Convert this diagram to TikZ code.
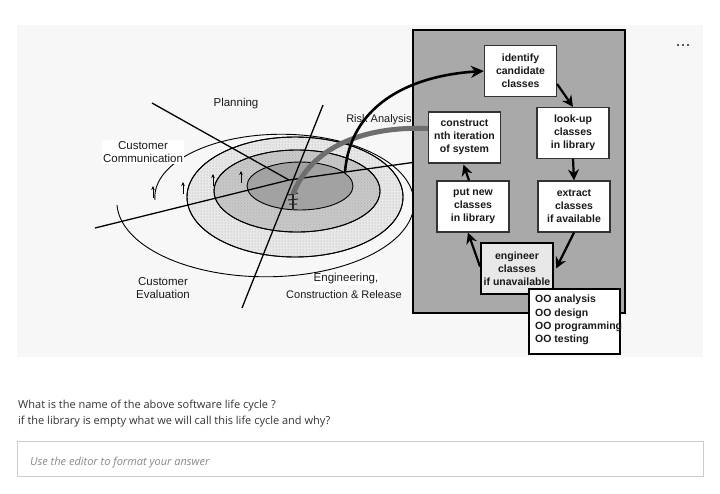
\documentclass[tikz,border=0pt]{standalone}
\usepackage{fontspec}
\setmainfont{Liberation Sans}
\newfontfamily\ui{Open Sans}
\usetikzlibrary{arrows.meta,patterns}
\definecolor{panelbg}{HTML}{F7F7F7}
\definecolor{boxgray}{HTML}{A9A9A9}
\definecolor{ringA}{HTML}{E8E8E8}
\definecolor{ringB}{HTML}{C8C8C8}
\definecolor{ringC}{HTML}{A2A2A2}
\definecolor{curvegray}{HTML}{6E6E6E}
\definecolor{uitext}{HTML}{333333}
\definecolor{uiborder}{HTML}{CCCCCC}
\definecolor{uiplace}{HTML}{888888}
\definecolor{lbl}{HTML}{1A1A1A}
\begin{document}
\begin{tikzpicture}[x=1pt,y=-1pt,
  stepbox/.style={rectangle,draw=black!80,line width=1.2pt,fill=white,align=center,
    minimum width=72pt,minimum height=51pt,inner sep=0pt,text=black!90,
    font=\fontsize{10.5}{13}\selectfont\bfseries},
  flowarr/.style={line width=2.2pt,-{Stealth[length=11pt,width=11pt]}},
  spirallbl/.style={align=center,text=lbl,inner sep=1pt,font=\fontsize{11.5}{13.5}\selectfont},
  axisline/.style={line width=1.3pt,black},
  ringline/.style={line width=0.9pt,black},
  tinyarr/.style={line width=0.6pt,-{Stealth[length=4pt,width=3.6pt]}},
  uitxt/.style={anchor=base west,inner sep=0pt,text=uitext,font=\ui\fontsize{11}{13}\selectfont}]
\path[use as bounding box] (0,0) rectangle (720,493);
\fill[white] (0,0) rectangle (720,493);
\fill[panelbg] (17,25) rectangle (703,357);

% rings
\filldraw[ringline,fill=ringA] (295,197) ellipse [x radius=108pt,y radius=60pt];
\fill[pattern=dots,pattern color=black!35] (295,197) ellipse [x radius=108pt,y radius=60pt];
\filldraw[ringline,fill=ringB] (297,191) ellipse [x radius=83pt,y radius=41pt];
\fill[pattern=crosshatch dots,pattern color=black!30] (297,191) ellipse [x radius=83pt,y radius=41pt];
\filldraw[ringline,fill=ringC] (300,186) ellipse [x radius=53pt,y radius=24pt];
\draw[ringline] (295,197) ellipse [x radius=108pt,y radius=60pt];
\draw[ringline] (297,191) ellipse [x radius=83pt,y radius=41pt];
\draw[ringline] plot[domain=180:540,samples=160,variable=\t]
  ({267+16*(\t-180)/360+(150-22*(\t-180)/360)*cos(\t)},{205-5*(\t-180)/360-(76-12*(\t-180)/360)*sin(\t)});

% small arrows on the spiral
\draw[tinyarr] (153,198) -- (153,186);
\draw[tinyarr] (183,194) -- (183,182);
\draw[tinyarr] (213,186) -- (213,174);
\draw[tinyarr] (241,183) -- (241,171);

% axes
\coordinate (ctr) at (289,180);
\coordinate (l1a) at (152,103);
\coordinate (l2a) at (95,228);
\coordinate (l2b) at (416,162);
\coordinate (l3a) at (323,105);
\coordinate (l3b) at (242,308);
\draw[axisline] (l1a) -- (ctr);
\draw[axisline] (l2a) -- (ctr) -- (l2b);
\draw[axisline] (l3a) -- (l3b);

% symbol near centre
\draw[line width=1.2pt,black!85] (293,189) -- (293,209);
\draw[line width=1pt,black!85] (288,195) -- (298,193) (288,200) -- (298,199) (289,204) -- (297,204);

% labels
\node[spirallbl] (plan) at (236,104) {Planning};
\node[spirallbl,font=\fontsize{11}{13.5}\selectfont] (risk) at (379,120) {Risk Analysis};
\node[spirallbl,fill=white] (ccomm) at (143,152) {Customer\\Communication};
\node[spirallbl] (ceval) at (163,288) {Customer\\Evaluation};
\node[spirallbl,fill=white,inner sep=0.5pt] (eng) at (346,279) {Engineering,};
\node[spirallbl,font=\fontsize{11}{13.5}\selectfont] (constr) at (344,295) {Construction \& Release};

% grey panel
\filldraw[fill=boxgray,draw=black,line width=2pt] (413,30) rectangle (625,313);

\node[stepbox] (identify) at (520.5,71) {identify\\candidate\\classes};
\node[stepbox] (lookup) at (573,133) {look-up\\classes\\in library};
\node[stepbox] (construct) at (464.5,137.5) {construct\\nth iteration\\of system};
\node[stepbox] (putnew) at (473,206.5) {put new\\classes\\in library};
\node[stepbox] (extract) at (574,206.5) {extract\\classes\\if available};
\node[stepbox,fill=black!9,draw=black,line width=2pt] (engineer) at (517,268.5) {engineer\\classes\\if unavailable};
\node[rectangle,draw=black,line width=2pt,fill=white,minimum width=91pt,minimum height=65pt,inner sep=0pt] (oobox) at (574.5,321.5) {};
\node[anchor=north west,align=left,inner sep=0pt,text=black!90,font=\fontsize{10.5}{13.3}\selectfont\bfseries] (ootext) at (535,295) {OO analysis\\OO design\\OO programming\\OO testing};

% flow arrows
\draw[flowarr] ([yshift=-13pt]identify.east) -- (lookup.north);
\draw[flowarr] (lookup.south) -- (extract.north);
\draw[flowarr] (extract.south) -- ([xshift=2pt]engineer.east);
\draw[flowarr] ([yshift=2pt]engineer.west) -- ([xshift=-5pt]putnew.south);
\draw[flowarr] ([xshift=-4pt]putnew.north) -- ([xshift=-1pt,yshift=-1pt]construct.south);

% curves from spiral
\coordinate (bstart) at (345,172);
\coordinate (gstart) at (293,194);
\draw[line width=5pt,curvegray] (gstart) .. controls (312,146) and (365,126) .. ([yshift=9pt]construct.west);
\draw[line width=2.6pt,-{Stealth[length=13pt,width=12pt]}] (bstart) .. controls (350,108) and (405,76) .. (identify.west);

% ellipsis menu
\foreach \xx in {678,683,688}{\fill[black!65] (\xx-1.3,43.7) rectangle (\xx+1.3,46.3);}

% question text
\node[uitxt] (q1) at (18,408) {What is the name of the above software life cycle ?};
\node[uitxt] (q2) at (18,424) {if the library is empty what we will call this life cycle and why?};
\node[rectangle,draw=uiborder,fill=white,line width=0.8pt,minimum width=686pt,minimum height=35pt,inner sep=0pt] (answer) at (360,458.5) {};
\node[anchor=base west,inner sep=0pt,text=uiplace,font=\ui\itshape\fontsize{11}{13}\selectfont] (ph) at (30,465) {Use the editor to format your answer};
\end{tikzpicture}
\end{document}
